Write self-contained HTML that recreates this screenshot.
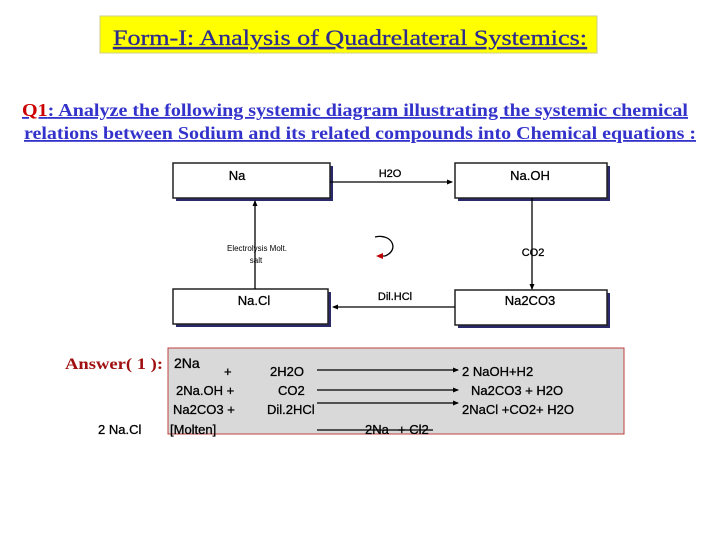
<!DOCTYPE html>
<html><head><meta charset="utf-8"><style>
html,body{margin:0;padding:0;background:#fff;}
svg{display:block}
</style></head><body>
<svg width="720" height="540" viewBox="0 0 720 540" xmlns="http://www.w3.org/2000/svg">
<defs>
<marker id="ah" markerWidth="6" markerHeight="6" refX="5" refY="3" orient="auto" markerUnits="userSpaceOnUse">
<path d="M0,0.5 L6,3 L0,5.5 z" fill="#000"/></marker>
<marker id="ahr" markerWidth="7" markerHeight="7" refX="5" refY="3.5" orient="auto" markerUnits="userSpaceOnUse">
<path d="M0,0.5 L7,3.5 L0,6.5 z" fill="#c00000"/></marker>
</defs>
<rect x="100" y="16" width="497" height="37" fill="#ffff00" stroke="#cccc88" stroke-width="1"/>
<text x="113" y="45" font-family="Liberation Serif" font-size="22" fill="#2b2b8f" stroke="#2b2b8f" stroke-width="0.3" textLength="474" lengthAdjust="spacingAndGlyphs" text-decoration="underline">Form-I: Analysis  of Quadrelateral  Systemics:</text>
<g font-family="Liberation Serif" font-weight="bold" font-size="18" fill="#3333cc" text-decoration="underline">
<text x="22" y="116" textLength="666" lengthAdjust="spacingAndGlyphs"><tspan fill="#cc0000">Q1</tspan>: Analyze the following  systemic diagram illustrating the systemic chemical</text>
<text x="24" y="139" textLength="672" lengthAdjust="spacingAndGlyphs">relations between Sodium and its related compounds into Chemical equations :</text>
</g>
<g fill="#2a2a6a">
<rect x="176" y="166" width="157" height="35"/><rect x="458" y="166" width="152" height="35"/>
<rect x="176" y="292" width="155" height="35"/><rect x="458" y="293" width="152" height="35"/>
</g>
<g fill="#fff" stroke="#222" stroke-width="1.5">
<rect x="173" y="163" width="157" height="35"/><rect x="455" y="163" width="152" height="35"/>
<rect x="173" y="289" width="155" height="35"/><rect x="455" y="290" width="152" height="35"/>
</g>
<g font-family="Liberation Sans" font-size="13" fill="#000" text-anchor="middle" stroke="#000" stroke-width="0.3">
<text x="237" y="180">Na</text><text x="530" y="180">Na.OH</text>
<text x="254" y="305">Na.Cl</text><text x="530" y="305">Na2CO3</text>
<text x="390" y="177" font-size="11">H2O</text>
<text x="533" y="256" font-size="11">CO2</text>
<text x="395" y="300" font-size="11">Dil.HCl</text>
</g>
<g font-family="Liberation Sans" font-size="8" fill="#000" text-anchor="middle">
<text x="257" y="251">Electrolysis Molt.</text>
<text x="256" y="263">salt</text>
</g>
<g stroke="#000" stroke-width="1.3" fill="none">
<line x1="330" y1="182" x2="452" y2="182" marker-end="url(#ah)"/>
<line x1="532" y1="198" x2="532" y2="289" marker-end="url(#ah)"/>
<line x1="455" y1="307" x2="333" y2="307" marker-end="url(#ah)"/>
<line x1="255" y1="289" x2="255" y2="201" marker-end="url(#ah)"/>
<path d="M375,237 C392,233 400,250 385,256 L378,256" marker-end="url(#ahr)"/>
</g>
<rect x="168" y="348" width="456" height="86" fill="#d9d9d9" stroke="#c04040" stroke-width="1"/>
<text x="65" y="369" font-family="Liberation Serif" font-weight="bold" font-size="16" fill="#a01010" textLength="98" lengthAdjust="spacingAndGlyphs">Answer( 1 ):</text>
<g font-family="Liberation Sans" font-size="13" fill="#000" stroke="#000" stroke-width="0.3">
<text x="174" y="368" font-size="14">2Na</text><text x="224" y="376">+</text>
<text x="270" y="376">2H2O</text><text x="462" y="376">2 NaOH+H2</text>
<text x="176" y="395">2Na.OH +</text><text x="278" y="395">CO2</text><text x="471" y="395">Na2CO3 + H2O</text>
<text x="173" y="414">Na2CO3 +</text><text x="267" y="414">Dil.2HCl</text><text x="462" y="414">2NaCl +CO2+ H2O</text>
<text x="98" y="434">2 Na.Cl</text><text x="170" y="434">[Molten]</text>
<text x="365" y="434">2Na</text><text x="398" y="434">+ Cl2</text>
</g>
<g stroke="#000" stroke-width="1.3">
<line x1="317" y1="370" x2="458" y2="370" marker-end="url(#ah)"/>
<line x1="317" y1="390" x2="458" y2="390" marker-end="url(#ah)"/>
<line x1="317" y1="403" x2="458" y2="403" marker-end="url(#ah)"/>
<line x1="317" y1="430" x2="433" y2="430"/>
</g>
</svg>
</body></html>
